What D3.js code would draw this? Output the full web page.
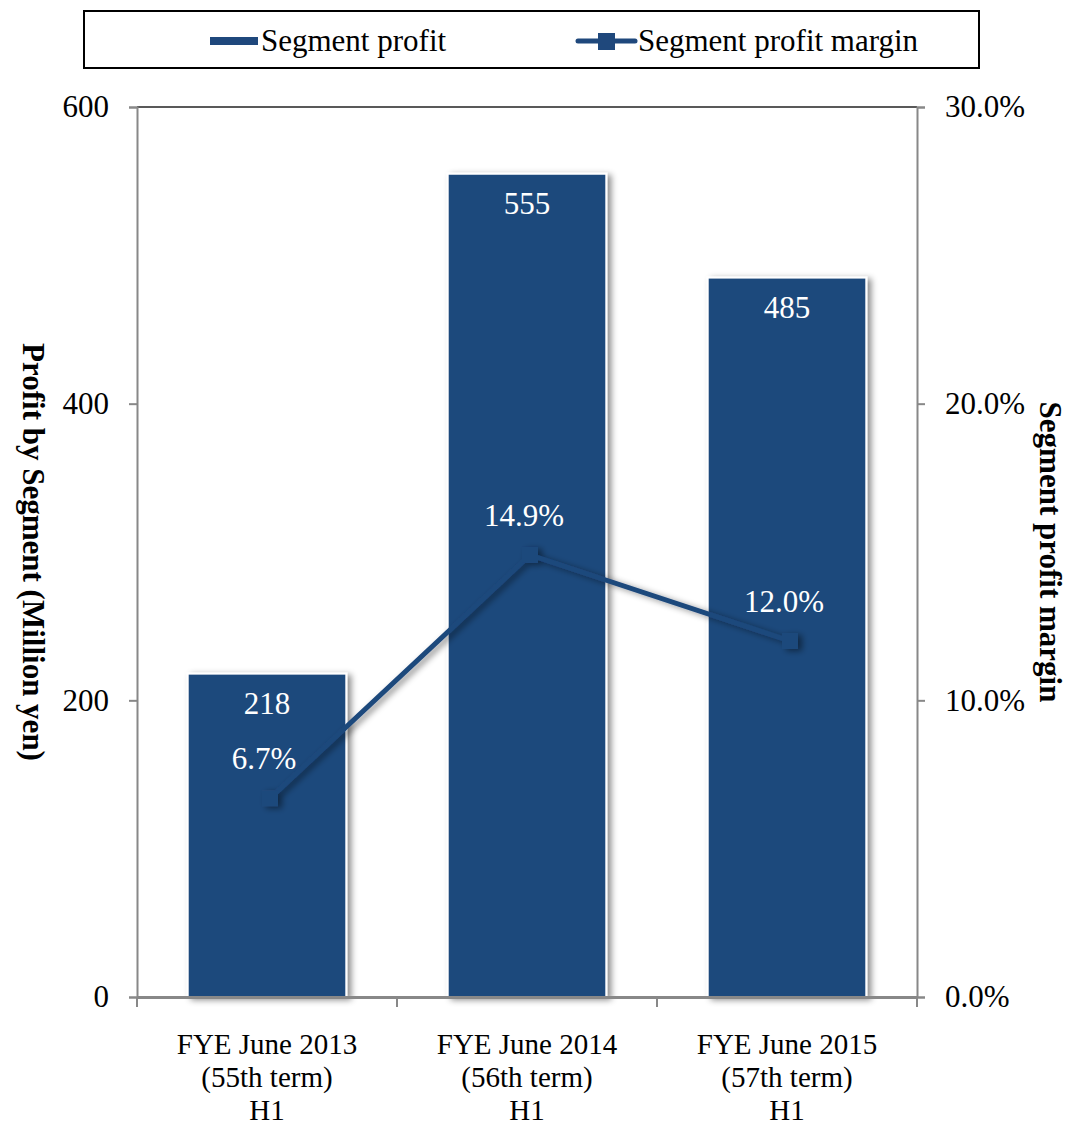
<!DOCTYPE html>
<html><head><meta charset="utf-8">
<script src="https://cdn.jsdelivr.net/npm/d3@7"></script>
<style>body{margin:0;background:#fff}svg{display:block}text{font-family:"Liberation Serif","Times New Roman",serif}</style>
</head><body><svg id="c" width="1067" height="1125"></svg>
<script>
const categories = ["FYE June 2013|(55th term)|H1","FYE June 2014|(56th term)|H1","FYE June 2015|(57th term)|H1"];
const profit = [218, 555, 485];
const margin = [0.067, 0.149, 0.120];
const leftTicks = [0, 200, 400, 600];
const rightTicks = [0, 0.10, 0.20, 0.30];
const seriesNames = ["Segment profit", "Segment profit margin"];

const color = "#1f487c";
const svg = d3.select("#c");
const L = 137, R = 917, T = 107, B = 997;

const defs = svg.append("defs");
const f = defs.append("filter").attr("id","sh").attr("x","-10%").attr("y","-10%").attr("width","130%").attr("height","130%");
f.append("feDropShadow").attr("dx",4).attr("dy",2).attr("stdDeviation",3).attr("flood-color","#000").attr("flood-opacity",0.45);

const x = d3.scaleBand().domain(categories).range([L, R]).paddingInner(0.39).paddingOuter(0.195);
const xs = d3.scaleBand().domain(categories).range([L, R]);
const y = d3.scaleLinear().domain([0, 600]).range([B, T]);
const y2 = d3.scaleLinear().domain([0, 0.30]).range([B, T]);

// top border
svg.append("line").attr("x1",L).attr("x2",R).attr("y1",T).attr("y2",T).attr("stroke","#222").attr("stroke-width",1.5);

// bars
svg.selectAll("rect.bar").data(profit).join("rect").attr("class","bar")
  .attr("x",(d,i)=>x(categories[i])).attr("width",x.bandwidth())
  .attr("y",d=>y(d)).attr("height",d=>B-y(d))
  .attr("fill",color).attr("stroke","#fff").attr("stroke-width",2).attr("filter","url(#sh)");

// axes
const gl = svg.append("g").attr("transform",`translate(${L},0)`)
  .call(d3.axisLeft(y).tickValues(leftTicks).tickSize(8).tickPadding(20).tickFormat(d3.format("d")));
const gr = svg.append("g").attr("transform",`translate(${R},0)`)
  .call(d3.axisRight(y2).tickValues(rightTicks).tickSize(8).tickPadding(20).tickFormat(d3.format(".1%")));
const gb = svg.append("g").attr("transform",`translate(0,${B})`)
  .call(d3.axisBottom(xs).tickValues([]).tickSizeOuter(0));
[gl,gr].forEach(g=>{g.select(".domain").attr("stroke","#888").attr("stroke-width",2);
  g.selectAll(".tick line").attr("stroke","#888").attr("stroke-width",2);
  g.selectAll(".tick text").attr("font-size",31).attr("fill","#000");});
gb.select(".domain").attr("stroke","#888").attr("stroke-width",3);
// category boundary ticks
const bounds = [L, ...categories.map(c=>xs(c)+xs.step())];
svg.selectAll("line.bt").data(bounds).join("line").attr("class","bt")
  .attr("x1",d=>d).attr("x2",d=>d).attr("y1",B).attr("y2",B+10).attr("stroke","#888").attr("stroke-width",2);

// category labels
categories.forEach(c=>{
  const t = svg.append("text").attr("text-anchor","middle").attr("font-size",29).attr("fill","#000");
  c.split("|").forEach((s,k)=>t.append("tspan").attr("x",xs(c)+xs.bandwidth()/2).attr("y",1054+k*33).text(s));
});

// line
const cx = i => x(categories[i]) + x.bandwidth()/2 + 3;
const line = d3.line().x((d,i)=>cx(i)).y(d=>y2(d));
const lg = svg.append("g").attr("filter","url(#sh)");
lg.append("path").datum(margin).attr("d",line).attr("fill","none").attr("stroke",color).attr("stroke-width",5);
lg.selectAll("rect").data(margin).join("rect")
  .attr("x",(d,i)=>cx(i)-8).attr("y",d=>y2(d)-8).attr("width",16).attr("height",16).attr("fill",color);

// bar labels
svg.selectAll("text.bl").data(profit).join("text").attr("class","bl")
  .attr("x",(d,i)=>x(categories[i])+x.bandwidth()/2).attr("y",d=>y(d)+40)
  .attr("text-anchor","middle").attr("font-size",31).attr("fill","#fff").text(d=>d);
// margin labels
svg.selectAll("text.ml").data(margin).join("text").attr("class","ml")
  .attr("x",(d,i)=>cx(i)-6).attr("y",d=>y2(d)-29)
  .attr("text-anchor","middle").attr("font-size",31).attr("fill","#fff").text(d=>d3.format(".1%")(d));

// axis titles
svg.append("text").attr("transform","translate(23,552) rotate(90)").attr("text-anchor","middle")
  .attr("font-size",31).attr("font-weight","bold").attr("fill","#000").text("Profit by Segment (Million yen)");
svg.append("text").attr("transform","translate(1040,552) rotate(90)").attr("text-anchor","middle")
  .attr("font-size",31).attr("font-weight","bold").attr("fill","#000").text("Segment profit margin");

// legend
svg.append("rect").attr("x",84).attr("y",11).attr("width",895).attr("height",57).attr("fill","#fff").attr("stroke","#000").attr("stroke-width",2);
svg.append("rect").attr("x",210).attr("y",37).attr("width",48).attr("height",8).attr("fill",color);
svg.append("text").attr("x",261).attr("y",51).attr("font-size",31).attr("fill","#000").text(seriesNames[0]);
svg.append("line").attr("x1",578).attr("x2",635).attr("y1",41).attr("y2",41).attr("stroke",color).attr("stroke-width",5).attr("stroke-linecap","round");
svg.append("rect").attr("x",598).attr("y",33).attr("width",17).attr("height",17).attr("fill",color);
svg.append("text").attr("x",638).attr("y",51).attr("font-size",31).attr("fill","#000").text(seriesNames[1]);
</script></body></html>
